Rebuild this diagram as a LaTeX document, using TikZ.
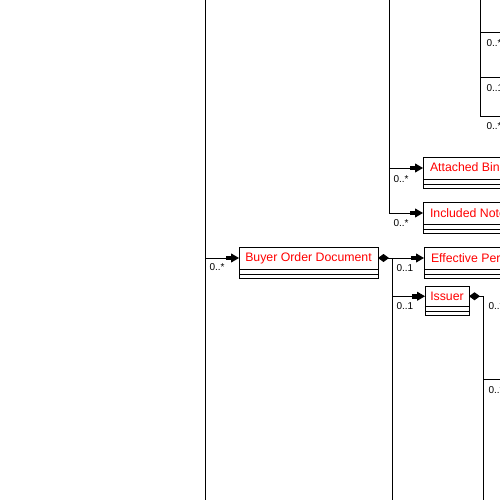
\documentclass[tikz,border=0pt]{standalone}
\usepackage{fontspec}
\setmainfont{Liberation Sans}
\usetikzlibrary{arrows.meta}
\begin{document}
\begin{tikzpicture}[x=1pt,y=-1pt,line width=1pt,
  cls/.style={draw,fill=white,anchor=north west,minimum height=22pt,inner ysep=0pt,inner xsep=6pt,outer sep=0pt,text=red,font=\fontsize{12.3}{14}\selectfont},
  mult/.style={anchor=west,inner sep=0pt,font=\fontsize{10}{12}\selectfont},
  navig/.style={-{Rectangle[length=5pt,width=4.5pt,sep=0pt]Triangle[length=8pt,width=9pt]}},
  compnav/.style={{Diamond[length=11pt,width=8pt]}-{Rectangle[length=5pt,width=4.5pt,sep=0pt]Triangle[length=8pt,width=9pt]}},
  comp/.style={{Diamond[length=11pt,width=8pt]}-}]
  \useasboundingbox (0,0) rectangle (500,500); \fill[white] (0,0) rectangle (500,500);
  \clip (0,0) rectangle (500,500);
  % classes
  \node[cls,minimum width=139pt] (buyer) at (239,247) {Buyer Order Document};
  \node[cls,inner xsep=7pt] (effper) at (424,247) {Effective Period};
  \node[cls,minimum width=44pt,inner xsep=4pt,minimum height=20.5pt] (issuer) at (425,286) {Issuer};
  \node[cls,inner xsep=7pt] (attbin) at (423,157) {Attached Binary Object};
  \node[cls,inner xsep=7pt] (incnote) at (423,202) {Included Note};
  \foreach \n in {buyer,effper,issuer,attbin,incnote} {\draw (\n.south west) rectangle ([yshift=-9pt]\n.south east); \draw ([yshift=-5pt]\n.south west) -- ([yshift=-5pt]\n.south east);}
  % connectors
  \coordinate (lt) at (205,0); \coordinate (lb) at (205,500);
  \coordinate (ut) at (389,0); \coordinate (mb) at (392,500);
  \coordinate (ib) at (483,500); \coordinate (ir) at (510,379);
  \coordinate (tr) at (480,0); \coordinate (trb) at (510,117);
  \draw (lt) -- (lb); \draw[navig] (lt |- buyer.west) -- (buyer.west);
  \draw[navig] (ut) |- (incnote.west); \draw[navig] (ut |- attbin.west) -- (attbin.west);
  \draw[compnav] (buyer.east) -- (effper.west);
  \draw[navig] (mb |- buyer.east) |- (issuer.west); \draw (mb |- issuer.west) -- (mb);
  \draw[comp] (issuer.east) -| (ib); \draw (ib |- ir) -- (ir);
  \draw (tr) |- (trb); \foreach \y in {33,78} \draw (tr |- 0,\y) -- (trb |- 0,\y);
  % multiplicities
  \foreach \x/\y/\t [count=\i] in {209/267/0..*,396/268/0..1,396/306/0..1,393/179/0..*,393/223/0..*,486/43/0..*,486/88/0..1,486/126/0..*,488/306/0..*,488/390/0..*}
    \node[mult] (m\i) at (\x,\y) {\t};
\end{tikzpicture}
\end{document}
